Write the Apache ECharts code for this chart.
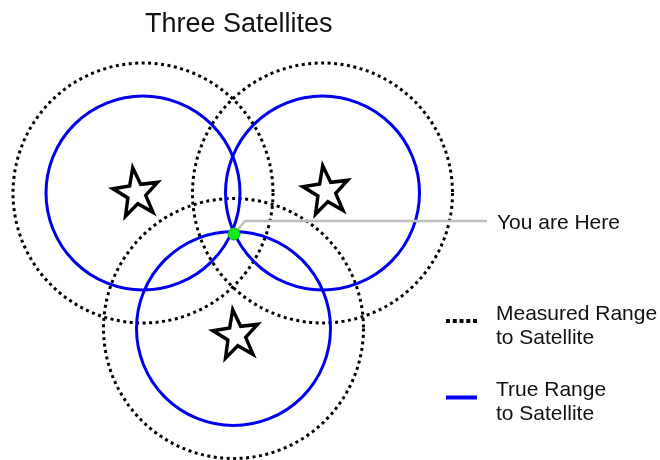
<!DOCTYPE html>
<html>
<head>
<meta charset="utf-8">
<script src="https://cdn.jsdelivr.net/npm/echarts@6/dist/echarts.min.js"></script>
<style>
  html, body { margin: 0; padding: 0; background: #fff; }
  #main { width: 660px; height: 460px; }
</style>
</head>
<body>
<div id="main"></div>
<script>
// units: 1 unit = 10 px, receiver at the origin
const satNames = ['Left', 'Right', 'Bottom'];
const satX = [-9.1, 8.85, -0.05];
const satY = [4.1, 4.1, -9.45];
const starX = [-9.8, 9.2, 0.2];
const starY = [4.3, 4.5, -9.9];
const trueRange = [9.7, 9.7, 9.7];
const measuredRange = [13.0, 13.0, 13.0];
const receiver = [0, 0];
const leaderX = [0, 1.1, 25.3];
const leaderY = [0, 1.3, 1.3];

const FONT = "'Liberation Sans', Arial, sans-serif";
const STAR = 'path://M50 0 L61.76 33.82 L97.55 34.55 L69.02 56.18 L79.39 90.45 L50 70 L20.61 90.45 L30.98 56.18 L2.45 34.55 L38.24 33.82 Z';
const DOTS = 'path://M0 0h4v4h-4z M6.75 0h4v4h-4z M13.5 0h4v4h-4z M20.25 0h4v4h-4z M27 0h4v4h-4z';

let chart = echarts.init(document.getElementById('main'));

function rangeData(ranges) {
  return satNames.map((n, i) => [satX[i], satY[i], ranges[i]]);
}

function circleRenderer(stroke, dash) {
  return function (params, api) {
    let c = api.coord([api.value(0), api.value(1)]);
    let r = api.size([api.value(2), 0])[0];
    return {
      type: 'circle',
      shape: { cx: c[0], cy: c[1], r: r },
      style: { fill: null, stroke: stroke, lineWidth: 3, lineDash: dash }
    };
  };
}

let option = {
  backgroundColor: '#fff',
  animation: false,
  title: {
    text: 'Three Satellites',
    left: 140,
    top: 6,
    textStyle: { fontFamily: FONT, fontSize: 27, fontWeight: 'normal', color: '#111' }
  },
  grid: { left: 0, top: 0, width: 660, height: 460 },
  xAxis: { type: 'value', min: -23.4, max: 42.6, show: false },
  yAxis: { type: 'value', min: -22.6, max: 23.4, show: false },
  legend: {
    orient: 'vertical',
    left: 446,
    top: 292,
    padding: 0,
    itemWidth: 31,
    itemHeight: 4,
    itemGap: 20,
    data: [
      { name: 'Measured Range', icon: DOTS },
      { name: 'True Range', icon: 'rect' }
    ],
    // blank first line pushes the two text lines a little below the icon
    formatter: name => '{s| }\n{t|' + name + '}\n{t|to Satellite}',
    textStyle: {
      color: '#111',
      padding: [0, 0, 0, 14],
      rich: {
        s: { fontSize: 10, lineHeight: 10 },
        t: { fontFamily: FONT, fontSize: 21, lineHeight: 24, color: '#111' }
      }
    }
  },
  series: [
    {
      name: 'Measured Range',
      type: 'custom',
      itemStyle: { color: '#000' },
      renderItem: circleRenderer('#000', [3, 3.5]),
      data: rangeData(measuredRange),
      z: 1
    },
    {
      name: 'True Range',
      type: 'custom',
      itemStyle: { color: '#0000ee' },
      renderItem: circleRenderer('#0000ee', null),
      data: rangeData(trueRange),
      z: 2
    },
    {
      name: 'leader',
      type: 'line',
      data: leaderX.map((x, i) => [x, leaderY[i]]),
      symbol: 'none',
      lineStyle: { color: '#bdbdbd', width: 2.5 },
      z: 3
    },
    {
      name: 'label',
      type: 'scatter',
      data: [[leaderX[2], leaderY[2]]],
      symbolSize: 0,
      itemStyle: { opacity: 1 },
      label: {
        show: true,
        position: 'right',
        distance: 10,
        formatter: 'You are Here',
        fontFamily: FONT,
        fontSize: 21,
        color: '#111',
        opacity: 1,
        offset: [0, 2]
      },
      z: 3
    },
    {
      name: 'receiver',
      type: 'scatter',
      data: [receiver],
      symbolSize: 12,
      itemStyle: { color: '#11ee11', borderColor: '#1aa81a', borderWidth: 1, opacity: 1 },
      z: 5
    },
    {
      name: 'satellites',
      type: 'scatter',
      data: starX.map((x, i) => [x, starY[i]]),
      symbol: STAR,
      symbolSize: [45, 47],
      symbolRotate: 8,
      itemStyle: { color: '#fff', borderColor: '#000', borderWidth: 3.5, opacity: 1 },
      z: 6
    }
  ]
};

chart.setOption(option);
</script>
</body>
</html>
